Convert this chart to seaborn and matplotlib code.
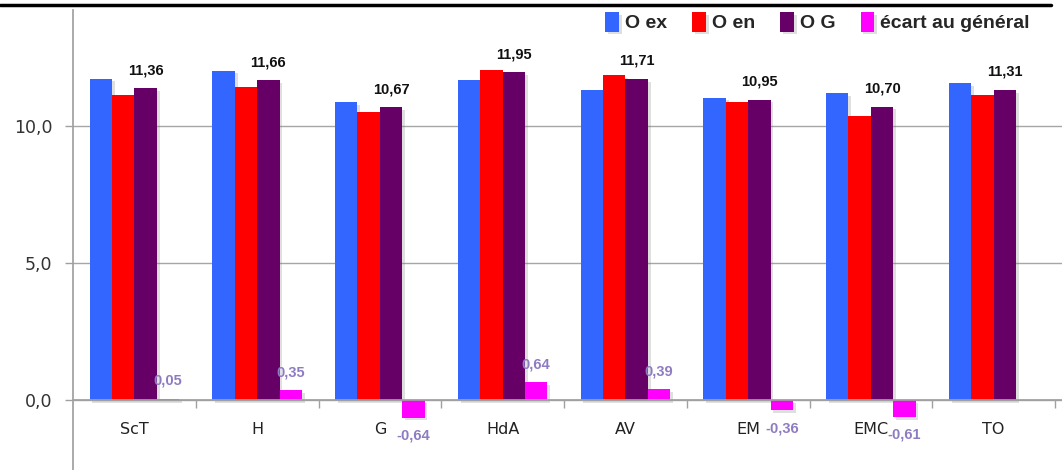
import numpy as np
import pandas as pd
import matplotlib
matplotlib.use("Agg")
import matplotlib.pyplot as plt
import seaborn as sns
from matplotlib import patheffects as pe
from matplotlib.lines import Line2D
from matplotlib.ticker import FixedLocator, FuncFormatter

# Moyennes par matière
categories = ["ScT", "H", "G", "HdA", "AV", "EM", "EMC", "TO"]
o_ex = [11.72, 12.01, 10.87, 11.65, 11.32, 11.03, 11.20, 11.56]
o_en = [11.11, 11.40, 10.50, 12.05, 11.85, 10.87, 10.37, 11.11]
o_g = [11.36, 11.66, 10.67, 11.95, 11.71, 10.95, 10.70, 11.31]
ecart = [0.05, 0.35, -0.64, 0.64, 0.39, -0.36, -0.61, np.nan]

series = ["O ex", "O en", "O G", "écart au général"]
colors = ["#3366FF", "#FF0000", "#660066", "#FF00FF"]

df = pd.DataFrame({
    "matière": categories * 4,
    "série": np.repeat(series, len(categories)),
    "note": o_ex + o_en + o_g + ecart,
})

sns.set_theme(style="white")
label_font = ["Liberation Sans", "DejaVu Sans"]
legend_font = ["Liberation Sans Narrow", "Liberation Sans", "DejaVu Sans"]

fig = plt.figure(figsize=(10.62, 4.70), dpi=100)
ax = fig.add_axes([73 / 1062, 0, 989 / 1062, 460 / 470])

sns.barplot(data=df, x="matière", y="note", hue="série", palette=colors,
            width=0.73, saturation=1, linewidth=0, errorbar=None, ax=ax)

for p in ax.patches:
    p.set_path_effects([pe.SimplePatchShadow(offset=(2, -2), alpha=0.25,
                                             shadow_rgbFace="gray"),
                        pe.Normal()])

ax.set_ylim(-2.55, 14.22)
ax.set_xlim(-0.5, 7.557)
ax.set_xlabel("")
ax.set_ylabel("")

axis_grey = "#A0A0A0"
for side in ("top", "right"):
    ax.spines[side].set_visible(False)
ax.spines["left"].set_color(axis_grey)
ax.spines["bottom"].set_color(axis_grey)
ax.spines["bottom"].set_position(("data", 0))

ax.set_yticks([0, 5, 10])
ax.yaxis.set_major_formatter(FuncFormatter(lambda v, _: f"{v:.1f}".replace(".", ",")))
ax.grid(axis="y", color="#A6A6A6", lw=1)
ax.set_axisbelow(True)
ax.tick_params(axis="y", length=6, width=1, color=axis_grey, direction="out",
               labelsize=12.5, pad=9, labelcolor="#333333", left=True)

ax.xaxis.set_minor_locator(FixedLocator(np.arange(0.5, 7.6, 1)))
ax.tick_params(axis="x", which="major", length=0, pad=16, labelsize=11.5,
               labelcolor="#222222")
ax.tick_params(axis="x", which="minor", length=6, width=1, color=axis_grey,
               direction="out", bottom=True)

def fr(v):
    return f"{v:.2f}".replace(".", ",")

ax.bar_label(ax.containers[2], labels=[fr(v) for v in ax.containers[2].datavalues],
             padding=8, fontsize=10.5, fontweight="bold", color="#111111",
             family=label_font)
ax.bar_label(ax.containers[3], labels=[fr(v) for v in ax.containers[3].datavalues],
             padding=8, fontsize=10.5, fontweight="bold", color="#8E7CC3",
             family=label_font)

handles, labels = ax.get_legend_handles_labels()
ax.legend_.remove()
fig.legend(handles, labels, loc="center right",
           bbox_to_anchor=(1047 / 1062, 1 - 22 / 470), ncol=4, frameon=False,
           handlelength=0.7, handleheight=1.2, handletextpad=0.3,
           columnspacing=1.3,
           prop={"family": legend_font, "weight": "bold", "size": 14})

fig.add_artist(Line2D([0, 0.99], [1 - 5 / 470] * 2, transform=fig.transFigure,
                      color="black", lw=2.5))

fig.savefig("out.png", dpi=100)
